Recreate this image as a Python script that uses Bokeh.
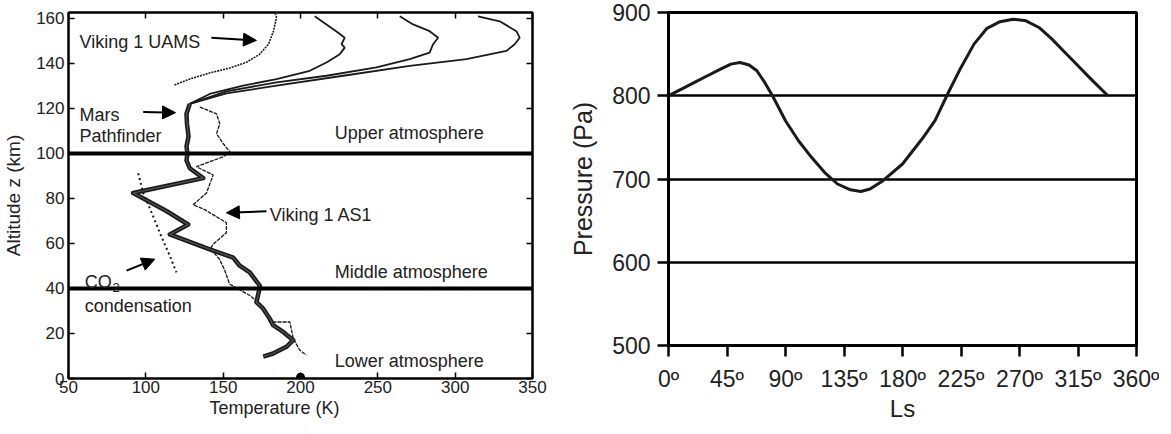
from bokeh.plotting import figure
from bokeh.models import Range1d, FixedTicker, LinearAxis, Label, Arrow, NormalHead, Span, Title
from bokeh.layouts import row
from bokeh.embed import file_html
from bokeh.resources import INLINE

FONT = "Liberation Sans"
TXT = "#222222"
INK = "#1a1a1a"

# ---------------- Left panel data (Temperature K, Altitude km) ----------------
uams_dotted_T = [118.5, 128.2, 141.1, 154.1, 165.1, 173.5, 179.3, 182.5, 184.5, 183.8]
uams_dotted_z = [130.4, 133.0, 135.7, 137.9, 140.5, 144.0, 148.5, 154.2, 160.4, 162.0]

curveA_T = [128.4, 141.3, 162.9, 184.5, 206.0, 216.8, 225.4, 228.6, 226.5, 228.6, 224.4, 216.8, 209.2]
curveA_z = [122.0, 126.4, 130.1, 133.0, 136.7, 140.4, 144.1, 147.0, 148.5, 151.4, 153.6, 157.3, 160.9]

curveB_T = [128.4, 152.1, 184.5, 216.8, 249.1, 270.6, 283.5, 285.7, 289.0, 283.5, 272.8, 264.2]
curveB_z = [122.0, 127.6, 131.6, 134.5, 138.2, 141.9, 144.8, 148.5, 151.4, 154.3, 157.3, 160.9]

curveC_T = [128.4, 152.1, 184.5, 227.6, 270.6, 307.3, 333.1, 338.5, 341.7, 339.6, 328.8, 314.8]
curveC_z = [122.0, 126.7, 130.1, 134.5, 138.9, 141.9, 145.5, 148.5, 151.4, 154.3, 158.7, 160.9]

pathfinder_T = [128.4, 126.3, 126.6, 127.6, 126.3, 126.9, 126.3, 128.4, 137.1, 91.8, 113.3, 127.4,
                115.5, 124.1, 141.3, 156.5, 160.7, 167.2, 173.7, 173.7, 171.5, 175.9, 180.1,
                182.3, 188.8, 195.3, 190.9, 182.3, 175.9]
pathfinder_z = [122.0, 117.6, 113.2, 107.5, 103.1, 100.0, 96.9, 93.4, 89.0, 82.4, 74.4, 68.4,
                64.0, 61.8, 57.4, 53.7, 50.1, 47.1, 41.2, 40.5, 33.9, 31.0, 26.6,
                23.7, 20.7, 17.0, 14.1, 11.1, 9.7]

as1_T = [134.9, 145.7, 147.8, 145.7, 150.0, 154.3, 150.0, 132.7, 143.5, 139.2, 130.6, 138.1,
         152.1, 152.1, 143.5, 141.8, 147.6, 150.8, 154.1, 167.2, 173.7, 175.9, 180.1, 193.1,
         195.3, 199.5, 203.8]
as1_z = [120.6, 117.6, 113.2, 108.8, 104.4, 100.7, 98.5, 94.1, 90.4, 82.4, 77.2, 75.0,
         69.2, 64.8, 59.6, 57.7, 53.0, 48.5, 42.0, 36.9, 33.2, 31.0, 25.1, 25.1,
         17.8, 12.6, 10.4]

co2_T = [95.1, 98.3, 102.5, 109.0, 115.5, 119.8]
co2_z = [91.2, 82.4, 75.8, 64.8, 54.5, 47.1]

surface_T = [200]
surface_z = [0.6]

boundaries_z = [100, 40]
left_xticks = [50, 100, 150, 200, 250, 300, 350]
left_yticks = [0, 20, 40, 60, 80, 100, 120, 140, 160]

notes_text = ["Viking 1 UAMS", "Mars", "Pathfinder", "Upper atmosphere", "Middle atmosphere",
              "Lower atmosphere", "Viking 1 AS1", "CO", "condensation"]
notes_T = [57.1, 57.1, 57.1, 222.1, 222.1, 222.1, 180.1, 60.5, 60.5]
notes_z = [149.3, 117.2, 107.9, 109.1, 47.4, 7.8, 72.8, 42.7, 32.4]

# arrows: (T_start, z_start, T_end, z_end)
arrows = [(142.4, 151.4, 171.5, 150.2),
          (98.3, 118.4, 119.2, 118.1),
          (178.0, 74.3, 152.1, 73.6),
          (87.5, 47.9, 105.8, 53.0)]

# ---------------- Right panel data (Ls deg, Pressure Pa) ----------------
ls = [0, 10, 20, 30, 40, 48, 55, 62, 68, 74, 80, 90, 100, 110, 120, 130, 140, 148, 155,
      165, 180, 195, 205, 215, 225, 235, 245, 255, 265, 275, 285, 295, 305, 315, 325, 338]
pa = [800, 808, 816, 824, 832, 838, 840, 837, 830, 816, 800, 770, 746, 726, 708, 694, 687,
      685, 688, 698, 718, 748, 770, 803, 834, 862, 881, 889, 892, 890, 882, 868, 852, 836,
      820, 800]
right_xticks = [0, 45, 90, 135, 180, 225, 270, 315, 360]
right_xlabels = ["0º", "45º", "90º", "135º", "180º", "225º", "270º", "315º", "360º"]
right_yticks = [500, 600, 700, 800, 900]
right_grid = [600, 700, 800]

# ================= Left figure =================
p1 = figure(frame_width=464, frame_height=366, min_border_left=64, min_border_right=24,
            min_border_top=10, min_border_bottom=42,
            x_range=Range1d(50, 350), y_range=Range1d(0, 162.6),
            output_backend="svg", toolbar_location=None)
p1.grid.visible = False
p1.outline_line_color = "black"
p1.outline_line_width = 2

for ax in (p1.xaxis[0], p1.yaxis[0]):
    ax.axis_line_width = 2
    ax.axis_line_color = "black"
    ax.major_tick_in = 6
    ax.major_tick_out = 0
    ax.major_tick_line_width = 1.5
    ax.minor_tick_line_color = None
    ax.major_label_text_font = FONT
    ax.major_label_text_font_size = "17px"
    ax.major_label_text_color = TXT
p1.xaxis.ticker = FixedTicker(ticks=left_xticks)
p1.yaxis.ticker = FixedTicker(ticks=left_yticks)
p1.xaxis.major_label_standoff = 2
p1.yaxis.major_label_standoff = 4
p1.yaxis.axis_label = "Altitude z (km)"
p1.yaxis.axis_label_text_font = FONT
p1.yaxis.axis_label_text_font_size = "19px"
p1.yaxis.axis_label_text_font_style = "normal"
p1.yaxis.axis_label_text_color = TXT
p1.yaxis.axis_label_standoff = 9

for loc, tk in (("above", left_xticks), ("right", left_yticks)):
    ax = LinearAxis(ticker=FixedTicker(ticks=tk), major_tick_in=6, major_tick_out=0,
                    major_tick_line_width=1.5, minor_tick_line_color=None,
                    axis_line_width=2, major_label_overrides={t: "" for t in tk},
                    major_label_standoff=0)
    p1.add_layout(ax, loc)

p1.add_layout(Title(text="Temperature (K)", align="left", offset=141, standoff=0,
                    text_font=FONT, text_font_size="18px", text_font_style="normal",
                    text_color=TXT), "below")

for zb in boundaries_z:
    p1.add_layout(Span(location=zb, dimension="width", line_color="black", line_width=4))

p1.line(uams_dotted_T, uams_dotted_z, line_color=INK, line_width=1.6, line_dash="2 1")
p1.line(curveA_T, curveA_z, line_color=INK, line_width=1.8)
p1.line(curveB_T, curveB_z, line_color=INK, line_width=1.8)
p1.line(curveC_T, curveC_z, line_color=INK, line_width=1.8)
p1.line(as1_T, as1_z, line_color=INK, line_width=1.3, line_dash="4 1")
p1.line(pathfinder_T, pathfinder_z, line_color=INK, line_width=4.5, line_join="round")
p1.line(pathfinder_T, pathfinder_z, line_color="#555555", line_width=1.2, line_join="round")
p1.line(co2_T, co2_z, line_color=INK, line_width=2, line_dash="2 3")
p1.scatter(surface_T, surface_z, size=8, color="black")

for (xs, ys, xe, ye) in arrows:
    p1.add_layout(Arrow(end=NormalHead(size=13, fill_color="black", line_color="black"),
                        x_start=xs, y_start=ys, x_end=xe, y_end=ye,
                        line_width=2, line_color="black"))

for t, x, y in zip(notes_text, notes_T, notes_z):
    p1.add_layout(Label(x=x, y=y, text=t, text_font=FONT, text_font_size="18px",
                        text_color=TXT, text_align="left", text_baseline="alphabetic"))
p1.add_layout(Label(x=78.5, y=40.6, text="2", text_font=FONT, text_font_size="13px",
                    text_color=TXT, text_align="left", text_baseline="alphabetic"))

# ================= Right figure =================
p2 = figure(frame_width=468, frame_height=333, min_border_left=112, min_border_right=23,
            min_border_top=12, min_border_bottom=73,
            x_range=Range1d(0, 360), y_range=Range1d(500, 900),
            output_backend="svg", toolbar_location=None)
p2.xgrid.visible = False
p2.ygrid.ticker = FixedTicker(ticks=right_grid)
p2.ygrid.grid_line_color = "black"
p2.ygrid.grid_line_width = 2.5
p2.outline_line_color = "black"
p2.outline_line_width = 3

for ax in (p2.xaxis[0], p2.yaxis[0]):
    ax.axis_line_width = 3
    ax.axis_line_color = "black"
    ax.major_tick_in = 0
    ax.major_tick_out = 11
    ax.major_tick_line_width = 2.5
    ax.minor_tick_line_color = None
    ax.major_label_text_font = FONT
    ax.major_label_text_font_size = "23px"
    ax.major_label_text_color = TXT
    ax.axis_label_text_font = FONT
    ax.axis_label_text_font_style = "normal"
    ax.axis_label_text_color = TXT
p2.xaxis.ticker = FixedTicker(ticks=right_xticks)
p2.xaxis.major_label_overrides = {t: l for t, l in zip(right_xticks, right_xlabels)}
p2.yaxis.ticker = FixedTicker(ticks=right_yticks)
p2.xaxis.major_label_standoff = 9
p2.yaxis.major_label_standoff = 7
p2.xaxis.axis_label = "Ls"
p2.xaxis.axis_label_text_font_size = "24px"
p2.xaxis.axis_label_standoff = 0
p2.yaxis.axis_label = "Pressure (Pa)"
p2.yaxis.axis_label_text_font_size = "25px"
p2.yaxis.axis_label_standoff = 12

p2.line(ls, pa, line_color=INK, line_width=3, line_join="round")

layout = row(p1, p2)
open("out.html", "w").write(file_html(layout, INLINE))
